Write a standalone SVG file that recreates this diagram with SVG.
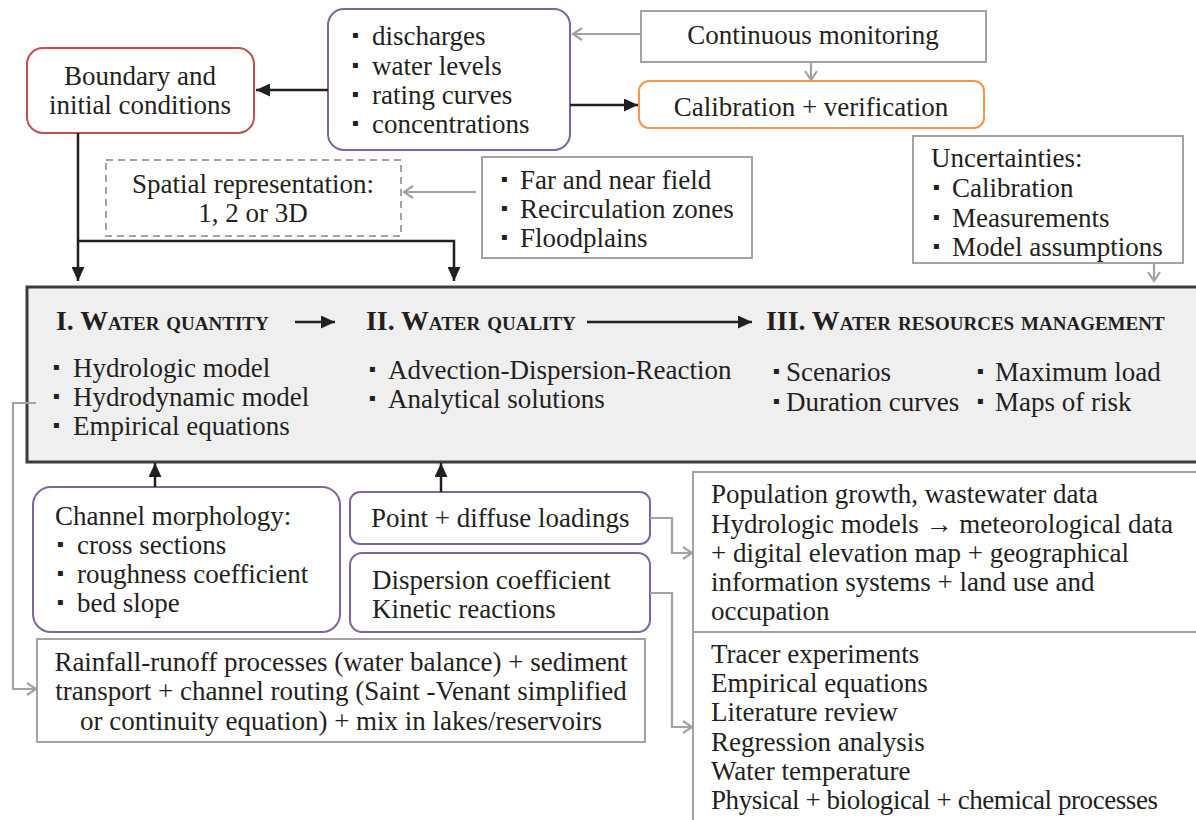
<svg xmlns="http://www.w3.org/2000/svg" width="1196" height="820" viewBox="0 0 1196 820">
<style>
.t{font-family:"Liberation Serif","Times New Roman",serif;font-size:27px;fill:#231f20}
.m{text-anchor:middle}
.h{font-weight:bold;font-variant:small-caps;font-size:27.8px}
.b{font-family:"DejaVu Sans",sans-serif;font-size:10px}
.gb{fill:#fff;stroke:#a3a3a3;stroke-width:2}
.pb{fill:#fff;stroke:#8064a2;stroke-width:2}
.k{fill:none;stroke:#231f20;stroke-width:2.5}
.g{fill:none;stroke:#a3a3a3;stroke-width:2.2}
</style>
<defs>
<marker id="ak" markerUnits="userSpaceOnUse" markerWidth="15" markerHeight="13" refX="14" refY="6.5" orient="auto" viewBox="0 0 15 13">
<path d="M0,0 L14,6.5 L0,13 z" fill="#231f20"/>
</marker>
<marker id="ag" markerUnits="userSpaceOnUse" markerWidth="12" markerHeight="14" refX="10" refY="7" orient="auto" viewBox="0 0 12 14">
<path d="M1,1 L10,7 L1,13" fill="none" stroke="#a3a3a3" stroke-width="2.2"/>
</marker>
</defs>

<g id="main">
<rect x="27" y="287" width="1185" height="175" fill="#efefef" stroke="#3c3c3c" stroke-width="3"/>
<text class="t h" x="56" y="330">I. Water quantity</text>
<text class="t h" x="366" y="330">II. Water quality</text>
<text class="t h" x="766" y="330">III. Water resources management</text>
<text class="t" y="377"><tspan class="b" x="53" dy="-7">▪</tspan><tspan x="73" dy="7">Hydrologic model</tspan></text>
<text class="t" y="406"><tspan class="b" x="53" dy="-7">▪</tspan><tspan x="73" dy="7">Hydrodynamic model</tspan></text>
<text class="t" y="435"><tspan class="b" x="53" dy="-7">▪</tspan><tspan x="73" dy="7">Empirical equations</tspan></text>
<text class="t" y="379"><tspan class="b" x="369" dy="-7">▪</tspan><tspan x="388" dy="7">Advection-Dispersion-Reaction</tspan></text>
<text class="t" y="408"><tspan class="b" x="369" dy="-7">▪</tspan><tspan x="388" dy="7">Analytical solutions</tspan></text>
<text class="t" y="381"><tspan class="b" x="773" dy="-7">▪</tspan><tspan x="786" dy="7">Scenarios</tspan></text>
<text class="t" y="411"><tspan class="b" x="773" dy="-7">▪</tspan><tspan x="786" dy="7">Duration curves</tspan></text>
<text class="t" y="381"><tspan class="b" x="977" dy="-7">▪</tspan><tspan x="995" dy="7">Maximum load</tspan></text>
<text class="t" y="411"><tspan class="b" x="977" dy="-7">▪</tspan><tspan x="995" dy="7">Maps of risk</tspan></text>
</g>

<g id="boundary">
<rect x="27" y="48" width="227" height="85" rx="16" fill="#fff" stroke="#c0504d" stroke-width="2"/>
<text class="t m" x="140" y="85">Boundary and</text>
<text class="t m" x="140" y="114">initial conditions</text>
</g>

<g id="measurements">
<rect x="328" y="9" width="242" height="141" rx="16" class="pb"/>
<text class="t" y="45"><tspan class="b" x="352" dy="-7">▪</tspan><tspan x="372" dy="7">discharges</tspan></text>
<text class="t" y="75"><tspan class="b" x="352" dy="-7">▪</tspan><tspan x="372" dy="7">water levels</tspan></text>
<text class="t" y="104"><tspan class="b" x="352" dy="-7">▪</tspan><tspan x="372" dy="7">rating curves</tspan></text>
<text class="t" y="133"><tspan class="b" x="352" dy="-7">▪</tspan><tspan x="372" dy="7">concentrations</tspan></text>
</g>

<g id="monitoring">
<rect x="641" y="11" width="345" height="51" class="gb"/>
<text class="t m" x="813" y="44">Continuous monitoring</text>
</g>

<g id="calibration">
<rect x="639" y="81" width="345" height="47" rx="10" fill="#fff" stroke="#f79646" stroke-width="2"/>
<text class="t m" x="811" y="116">Calibration + verification</text>
</g>

<g id="spatial">
<rect x="106" y="160" width="295" height="76" fill="#fff" stroke="#a3a3a3" stroke-width="2" stroke-dasharray="7,5"/>
<text class="t m" x="253" y="193">Spatial representation:</text>
<text class="t m" x="253" y="222">1, 2 or 3D</text>
</g>

<g id="field">
<rect x="482" y="157" width="270" height="101" class="gb"/>
<text class="t" y="189"><tspan class="b" x="501" dy="-7">▪</tspan><tspan x="520" dy="7">Far and near field</tspan></text>
<text class="t" y="218"><tspan class="b" x="501" dy="-7">▪</tspan><tspan x="520" dy="7">Recirculation zones</tspan></text>
<text class="t" y="247"><tspan class="b" x="501" dy="-7">▪</tspan><tspan x="520" dy="7">Floodplains</tspan></text>
</g>

<g id="uncertainties">
<rect x="913" y="136" width="270" height="127" class="gb"/>
<text class="t" x="931" y="167">Uncertainties:</text>
<text class="t" y="197"><tspan class="b" x="933" dy="-7">▪</tspan><tspan x="952" dy="7">Calibration</tspan></text>
<text class="t" y="227"><tspan class="b" x="933" dy="-7">▪</tspan><tspan x="952" dy="7">Measurements</tspan></text>
<text class="t" y="256"><tspan class="b" x="933" dy="-7">▪</tspan><tspan x="952" dy="7">Model assumptions</tspan></text>
</g>

<g id="channel">
<rect x="33" y="487" width="307" height="145" rx="18" class="pb"/>
<text class="t" x="55" y="525">Channel morphology:</text>
<text class="t" y="554"><tspan class="b" x="57" dy="-7">▪</tspan><tspan x="77" dy="7">cross sections</tspan></text>
<text class="t" y="583"><tspan class="b" x="57" dy="-7">▪</tspan><tspan x="77" dy="7">roughness coefficient</tspan></text>
<text class="t" y="612"><tspan class="b" x="57" dy="-7">▪</tspan><tspan x="77" dy="7">bed slope</tspan></text>
</g>

<g id="loadings">
<rect x="350" y="492" width="300" height="52" rx="10" class="pb"/>
<text class="t" x="371" y="527">Point + diffuse loadings</text>
</g>

<g id="dispersion">
<rect x="350" y="553" width="300" height="79" rx="12" class="pb"/>
<text class="t" x="372" y="589">Dispersion coefficient</text>
<text class="t" x="372" y="618">Kinetic reactions</text>
</g>

<g id="rainfall">
<rect x="37" y="639" width="608" height="103" class="gb"/>
<text class="t m" x="341" y="671">Rainfall-runoff processes (water balance) + sediment</text>
<text class="t m" x="341" y="700">transport + channel routing (Saint -Venant simplified</text>
<text class="t m" x="341" y="730">or continuity equation) + mix in lakes/reservoirs</text>
</g>

<g id="datasources">
<rect x="693" y="472" width="520" height="160" class="gb"/>
<text class="t" x="711" y="503">Population growth, wastewater data</text>
<text class="t" x="711" y="533">Hydrologic models → meteorological data</text>
<text class="t" x="711" y="562">+ digital elevation map + geographical</text>
<text class="t" x="711" y="591">information systems + land use and</text>
<text class="t" x="711" y="620">occupation</text>
</g>

<g id="methods">
<rect x="693" y="632" width="520" height="200" class="gb"/>
<text class="t" x="711" y="663">Tracer experiments</text>
<text class="t" x="711" y="692">Empirical equations</text>
<text class="t" x="711" y="721">Literature review</text>
<text class="t" x="711" y="751">Regression analysis</text>
<text class="t" x="711" y="780">Water temperature</text>
<text class="t" x="711" y="809" textLength="447">Physical + biological + chemical processes</text>
</g>

<g id="connectors">
<path class="k" d="M328,90 H256" marker-end="url(#ak)"/>
<path class="k" d="M570,105 H638" marker-end="url(#ak)"/>
<path class="k" d="M78,133 V281" marker-end="url(#ak)"/>
<path class="k" d="M78,241 H454 V281" marker-end="url(#ak)"/>
<path class="k" d="M295,322 H335" marker-end="url(#ak)"/>
<path class="k" d="M587,322 H752" marker-end="url(#ak)"/>
<path class="k" d="M155,487 V463" marker-end="url(#ak)"/>
<path class="k" d="M441,492 V463" marker-end="url(#ak)"/>
<path class="g" d="M641,34 H573" marker-end="url(#ag)"/>
<path class="g" d="M811,62 V80" marker-end="url(#ag)"/>
<path class="g" d="M476,192 H404" marker-end="url(#ag)"/>
<path class="g" d="M1154,263 V281" marker-end="url(#ag)"/>
<path class="g" d="M36,403 H13 V689 H36" marker-end="url(#ag)"/>
<path class="g" d="M650,518 H672 V553 H692" marker-end="url(#ag)"/>
<path class="g" d="M650,593 H672 V727 H692" marker-end="url(#ag)"/>
</g>
</svg>
